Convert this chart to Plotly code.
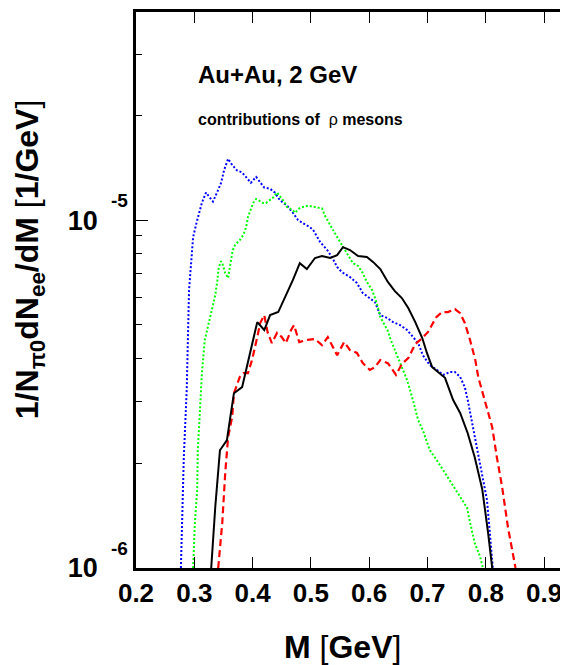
"""Dielectron mass spectrum, rho meson contributions, Au+Au 2 GeV"""

import math
import plotly.graph_objects as go

# Invariant mass [GeV] and 1/N_pi0 dN_ee/dM [1/GeV] for each contribution
blue_m = [0.277, 0.279, 0.282, 0.287, 0.291, 0.294, 0.298, 0.305, 0.313, 0.320,
          0.325, 0.332, 0.339, 0.346, 0.351, 0.358, 0.365, 0.373, 0.382, 0.390,
          0.397, 0.406, 0.411, 0.420, 0.430, 0.438, 0.447, 0.459, 0.469, 0.478,
          0.486, 0.498, 0.504, 0.516, 0.528, 0.536, 0.545, 0.553, 0.567, 0.579,
          0.589, 0.601, 0.610, 0.619, 0.631, 0.641, 0.653, 0.665, 0.675, 0.684,
          0.692, 0.704, 0.716, 0.727, 0.739, 0.747, 0.756, 0.764, 0.769, 0.778,
          0.790, 0.802, 0.807, 0.812]
blue_y = [1.0e-6, 1.35e-6, 2.08e-6, 3.25e-6, 6.29e-6, 7.33e-6, 8.94e-6, 1.0e-5, 1.12e-5, 1.20e-5,
          1.17e-5, 1.13e-5, 1.20e-5, 1.28e-5, 1.39e-5, 1.50e-5, 1.44e-5, 1.39e-5, 1.37e-5, 1.32e-5,
          1.28e-5, 1.33e-5, 1.30e-5, 1.24e-5, 1.23e-5, 1.20e-5, 1.14e-5, 1.10e-5, 1.05e-5, 1.0e-5,
          9.80e-6, 9.55e-6, 9.36e-6, 8.64e-6, 8.20e-6, 7.83e-6, 7.33e-6, 7.09e-6, 6.86e-6, 6.59e-6,
          6.17e-6, 5.97e-6, 5.81e-6, 5.33e-6, 5.23e-6, 5.09e-6, 4.99e-6, 4.83e-6, 4.61e-6, 4.43e-6,
          4.09e-6, 3.83e-6, 3.71e-6, 3.59e-6, 3.66e-6, 3.66e-6, 3.54e-6, 3.31e-6, 3.04e-6, 2.54e-6,
          2.04e-6, 1.57e-6, 1.26e-6, 1.0e-6]

green_m = [0.298, 0.301, 0.305, 0.306, 0.310, 0.313, 0.318, 0.327, 0.336, 0.339,
           0.342, 0.346, 0.349, 0.353, 0.358, 0.361, 0.366, 0.370, 0.378, 0.384,
           0.389, 0.392, 0.397, 0.401, 0.406, 0.411, 0.418, 0.423, 0.430, 0.435,
           0.442, 0.449, 0.454, 0.459, 0.468, 0.473, 0.480, 0.486, 0.495, 0.507,
           0.519, 0.524, 0.529, 0.538, 0.546, 0.555, 0.564, 0.572, 0.581, 0.588,
           0.596, 0.605, 0.610, 0.615, 0.619, 0.625, 0.632, 0.637, 0.644, 0.651,
           0.658, 0.665, 0.675, 0.684, 0.692, 0.704, 0.716, 0.727, 0.744, 0.756,
           0.768, 0.771, 0.776, 0.781, 0.790, 0.795]
green_y = [1.0e-6, 1.35e-6, 1.68e-6, 2.18e-6, 2.90e-6, 3.63e-6, 4.52e-6, 5.26e-6, 6.09e-6, 6.59e-6,
           7.33e-6, 7.62e-6, 7.43e-6, 7.04e-6, 6.81e-6, 7.33e-6, 8.20e-6, 8.48e-6, 8.76e-6, 9.06e-6,
           9.55e-6, 1.02e-5, 1.08e-5, 1.12e-5, 1.15e-5, 1.14e-5, 1.12e-5, 1.12e-5, 1.14e-5, 1.16e-5,
           1.20e-5, 1.16e-5, 1.13e-5, 1.09e-5, 1.07e-5, 1.05e-5, 1.08e-5, 1.09e-5, 1.10e-5, 1.09e-5,
           1.08e-5, 1.03e-5, 9.93e-6, 9.36e-6, 8.88e-6, 8.36e-6, 7.88e-6, 7.52e-6, 7.38e-6, 7.09e-6,
           6.64e-6, 6.29e-6, 5.97e-6, 5.62e-6, 5.26e-6, 5.06e-6, 4.80e-6, 4.52e-6, 4.23e-6, 3.96e-6,
           3.71e-6, 3.47e-6, 3.04e-6, 2.66e-6, 2.49e-6, 2.18e-6, 2.04e-6, 1.91e-6, 1.71e-6, 1.60e-6,
           1.49e-6, 1.40e-6, 1.29e-6, 1.18e-6, 1.08e-6, 1.0e-6]

black_m = [0.329, 0.336, 0.344, 0.356, 0.361, 0.368, 0.382, 0.390, 0.399, 0.408,
           0.420, 0.430, 0.444, 0.459, 0.469, 0.481, 0.493, 0.507, 0.519, 0.533,
           0.545, 0.555, 0.567, 0.581, 0.596, 0.607, 0.619, 0.632, 0.644, 0.656,
           0.667, 0.679, 0.691, 0.699, 0.708, 0.718, 0.730, 0.744, 0.756, 0.769,
           0.781, 0.794, 0.799, 0.804, 0.811]
black_y = [1.0e-6, 1.50e-6, 2.18e-6, 2.33e-6, 2.66e-6, 3.18e-6, 3.31e-6, 3.78e-6, 4.43e-6, 5.09e-6,
           4.83e-6, 5.33e-6, 5.44e-6, 6.17e-6, 6.72e-6, 7.52e-6, 7.23e-6, 7.78e-6, 7.88e-6, 7.78e-6,
           7.93e-6, 8.36e-6, 8.20e-6, 7.88e-6, 7.83e-6, 7.57e-6, 7.23e-6, 6.64e-6, 6.25e-6, 5.97e-6,
           5.59e-6, 5.09e-6, 4.58e-6, 4.15e-6, 3.78e-6, 3.66e-6, 3.52e-6, 3.04e-6, 2.79e-6, 2.44e-6,
           2.08e-6, 1.68e-6, 1.47e-6, 1.26e-6, 1.0e-6]

red_m = [0.341, 0.348, 0.353, 0.358, 0.365, 0.368, 0.378, 0.384, 0.392, 0.399,
         0.408, 0.413, 0.420, 0.426, 0.433, 0.442, 0.450, 0.457, 0.466, 0.471,
         0.480, 0.492, 0.507, 0.519, 0.529, 0.545, 0.557, 0.567, 0.579, 0.589,
         0.601, 0.610, 0.619, 0.632, 0.646, 0.656, 0.667, 0.679, 0.691, 0.701,
         0.715, 0.725, 0.735, 0.747, 0.756, 0.764, 0.773, 0.782, 0.787, 0.799,
         0.811, 0.819, 0.828, 0.838, 0.851]
red_y = [1.0e-6, 1.35e-6, 1.87e-6, 2.38e-6, 2.72e-6, 3.18e-6, 3.54e-6, 3.63e-6, 3.63e-6, 3.96e-6,
         4.61e-6, 5.06e-6, 5.33e-6, 4.74e-6, 4.43e-6, 4.74e-6, 4.61e-6, 4.43e-6, 4.83e-6, 4.99e-6,
         4.46e-6, 4.52e-6, 4.55e-6, 4.37e-6, 4.61e-6, 4.09e-6, 4.46e-6, 4.23e-6, 4.15e-6, 3.88e-6,
         3.71e-6, 3.78e-6, 3.96e-6, 3.88e-6, 3.59e-6, 3.86e-6, 4.01e-6, 4.40e-6, 4.58e-6, 4.77e-6,
         5.26e-6, 5.44e-6, 5.44e-6, 5.55e-6, 5.40e-6, 5.06e-6, 4.52e-6, 3.96e-6, 3.54e-6, 2.98e-6,
         2.54e-6, 2.08e-6, 1.71e-6, 1.31e-6, 1.0e-6]

x_ticks = [0.2, 0.3, 0.4, 0.5, 0.6, 0.7, 0.8, 0.9]
y_ticks = [1e-6, 1e-5]
y_exponents = ["-6", "-5"]
y_minor = [2e-6, 3e-6, 4e-6, 5e-6, 6e-6, 7e-6, 8e-6, 9e-6, 2e-5, 3e-5, 4e-5]

FONT = "Liberation Sans, Arial, sans-serif"

fig = go.Figure()

fig.add_trace(go.Scatter(x=blue_m, y=blue_y, mode="lines",
                         line=dict(color="#0000ff", width=2, dash="2px,2px")))
fig.add_trace(go.Scatter(x=green_m, y=green_y, mode="lines",
                         line=dict(color="#00ff00", width=2, dash="2px,2px")))
fig.add_trace(go.Scatter(x=red_m, y=red_y, mode="lines",
                         line=dict(color="#ff0000", width=2.2, dash="7px,4px")))
fig.add_trace(go.Scatter(x=black_m, y=black_y, mode="lines",
                         line=dict(color="black", width=2)))

# page body adds an 8px margin, so the figure is 8px smaller than the window
fig.update_layout(
    width=560,
    height=657,
    margin=dict(l=128, r=0, t=4, b=97),
    paper_bgcolor="white",
    plot_bgcolor="white",
    showlegend=False,
    font=dict(family=FONT, color="black"),
)

# x axis: ticks inside on bottom and top
fig.update_xaxes(
    range=[0.2, 0.941],
    tickmode="array",
    tickvals=x_ticks,
    ticktext=[f"{v:.1f}" for v in x_ticks],
    ticks="inside",
    ticklen=11,
    tickwidth=1.2,
    tickcolor="black",
    showline=True,
    linewidth=2.5,
    linecolor="black",
    mirror="ticks",
    showgrid=False,
    zeroline=False,
    tickfont=dict(size=26, family=FONT, weight="bold"),
)

# log y axis with labelled decades and short minor ticks
fig.update_yaxes(
    type="log",
    range=[-6, -4.402],
    tickmode="array",
    tickvals=y_ticks,
    ticktext=["10"] * len(y_ticks),
    ticklabelstandoff=30,
    ticks="inside",
    ticklen=12,
    tickwidth=1.2,
    tickcolor="black",
    minor=dict(tickmode="array", tickvals=y_minor, ticks="inside",
               ticklen=6, tickwidth=1.2, tickcolor="black", showgrid=False),
    showline=True,
    linewidth=2.5,
    linecolor="black",
    mirror=False,
    showgrid=False,
    zeroline=False,
    tickfont=dict(size=27, family=FONT, weight="bold"),
)

# exponents of the decade labels, raised above the "10"
for v, e in zip(y_ticks, y_exponents):
    fig.add_annotation(text=f"<b>{e}</b>", xref="paper", yref="y",
                       x=-0.039, y=math.log10(v), yshift=20,
                       xanchor="center", yanchor="middle", showarrow=False,
                       font=dict(size=19, family=FONT))

# texts
fig.add_annotation(text="<b>Au+Au, 2 GeV</b>", xref="paper", yref="paper",
                   x=0.139, y=0.887, xanchor="left", yanchor="middle",
                   showarrow=False, font=dict(size=24, family=FONT))
fig.add_annotation(text="<b>contributions of </b> ρ <b>mesons</b>", xref="paper", yref="paper",
                   x=0.139, y=0.806, xanchor="left", yanchor="middle",
                   showarrow=False, font=dict(size=16, family=FONT))
fig.add_annotation(
    text="<b>1/N<sub>π0</sub>dN<sub>ee</sub>/dM </b>[<b>1/GeV</b>]",
    xref="paper", yref="paper", x=-0.245, y=0.554,
    xanchor="center", yanchor="middle", textangle=-90,
    showarrow=False, font=dict(size=32, family=FONT))
fig.add_annotation(text="<b>M </b>[<b>GeV</b>]", xref="paper", yref="paper",
                   x=0.479, y=-0.142, xanchor="center", yanchor="middle",
                   showarrow=False, font=dict(size=32, family=FONT))

fig.write_html("out.html")
